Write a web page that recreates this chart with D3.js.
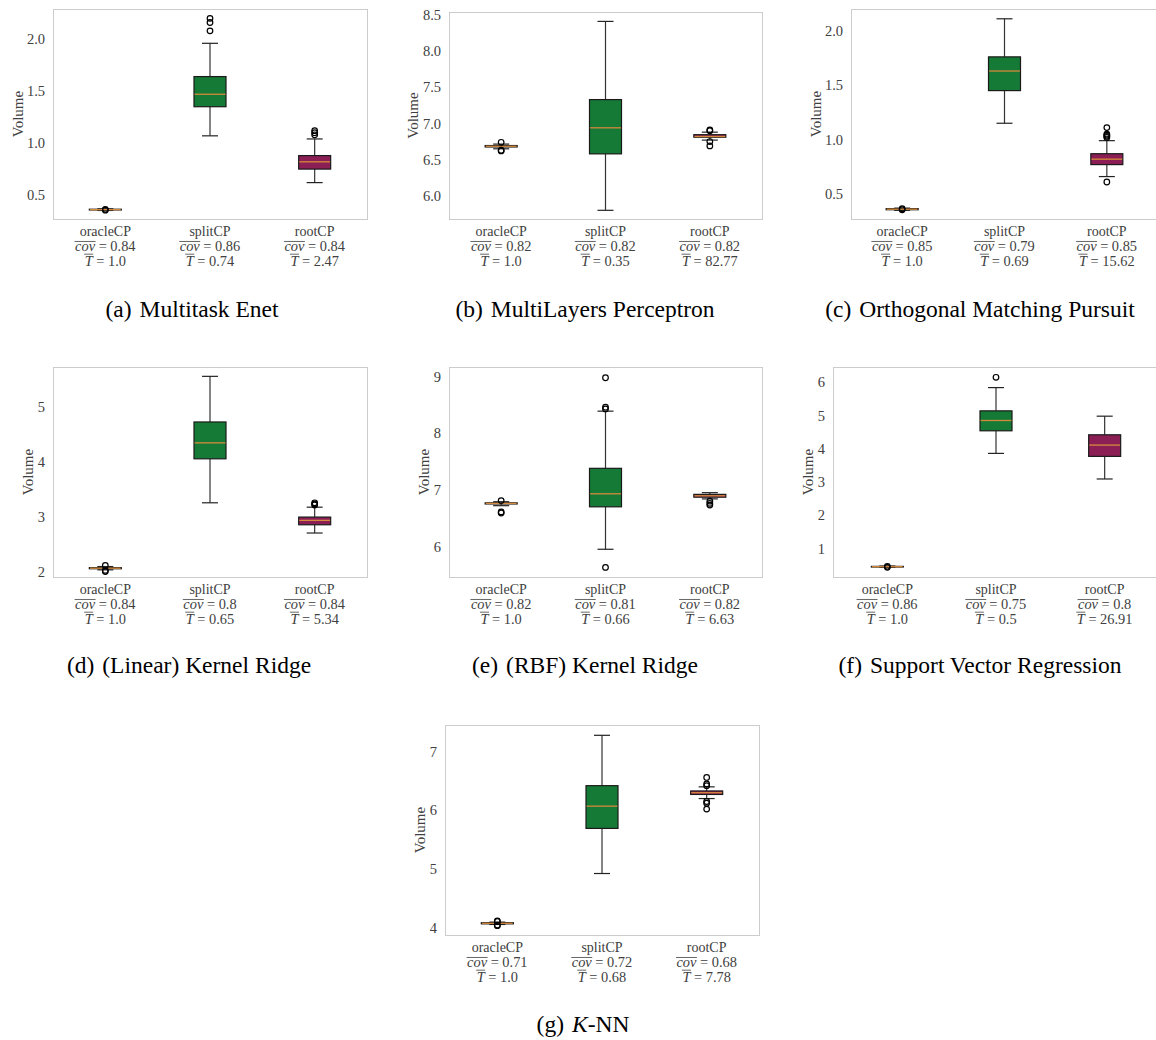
<!DOCTYPE html>
<html><head><meta charset="utf-8">
<script src="https://cdn.jsdelivr.net/npm/d3@7"></script>
<style>body{margin:0;background:#fff}</style>
</head><body>
<svg id="chart" width="1156" height="1040" xmlns="http://www.w3.org/2000/svg"></svg>
<script>
// ---------- data ----------
const categories = ["oracleCP", "splitCP", "rootCP"];
const panelLetters = ["a", "b", "c", "d", "e", "f", "g"];
const panelTitles = ["Multitask Enet", "MultiLayers Perceptron", "Orthogonal Matching Pursuit",
  "(Linear) Kernel Ridge", "(RBF) Kernel Ridge", "Support Vector Regression", "K-NN"];
const covLabels = [
  ["0.84", "0.86", "0.84"], ["0.82", "0.82", "0.82"], ["0.85", "0.79", "0.85"],
  ["0.84", "0.8", "0.84"], ["0.82", "0.81", "0.82"], ["0.86", "0.75", "0.8"],
  ["0.71", "0.72", "0.68"]];
const timeLabels = [
  ["1.0", "0.74", "2.47"], ["1.0", "0.35", "82.77"], ["1.0", "0.69", "15.62"],
  ["1.0", "0.65", "5.34"], ["1.0", "0.66", "6.63"], ["1.0", "0.5", "26.91"],
  ["1.0", "0.68", "7.78"]];

// box statistics per category: [lower whisker, q1, median, q3, upper whisker]
const statsA = [[0.352, 0.357, 0.360, 0.364, 0.368], [1.07, 1.35, 1.47, 1.64, 1.96], [0.62, 0.75, 0.82, 0.88, 1.04]];
const statsB = [[6.65, 6.675, 6.685, 6.695, 6.715], [5.80, 6.58, 6.94, 7.33, 8.41], [6.77, 6.81, 6.82, 6.845, 6.88]];
const statsC = [[0.35, 0.355, 0.36, 0.365, 0.37], [1.15, 1.45, 1.63, 1.76, 2.11], [0.66, 0.77, 0.82, 0.87, 0.99]];
const statsD = [[2.03, 2.05, 2.06, 2.07, 2.09], [3.25, 4.05, 4.34, 4.72, 5.55], [2.70, 2.85, 2.93, 2.99, 3.17]];
const statsE = [[6.72, 6.75, 6.76, 6.77, 6.79], [5.95, 6.70, 6.93, 7.38, 8.39], [6.84, 6.87, 6.895, 6.92, 6.95]];
const statsF = [[0.43, 0.44, 0.45, 0.46, 0.47], [3.86, 4.54, 4.85, 5.14, 5.84], [3.09, 3.77, 4.11, 4.42, 4.98]];
const statsG = [[4.05, 4.06, 4.07, 4.08, 4.09], [4.92, 5.69, 6.07, 6.42, 7.28], [6.20, 6.27, 6.30, 6.33, 6.40]];

const outliersA = [[0.355, 0.363], [2.08, 2.16, 2.20], [1.08, 1.10, 1.12]];
const outliersB = [[6.62, 6.63, 6.74], [], [6.69, 6.75, 6.90, 6.91]];
const outliersC = [[0.355, 0.365], [], [0.61, 1.02, 1.03, 1.04, 1.05, 1.11]];
const outliersD = [[2.00, 2.02, 2.11], [], [3.21, 3.23, 3.25]];
const outliersE = [[6.59, 6.61, 6.81], [5.63, 8.43, 8.46, 8.98], [6.73, 6.76, 6.80]];
const outliersF = [[0.43, 0.46], [6.15], []];
const outliersG = [[4.03, 4.04, 4.10, 4.11], [], [6.02, 6.12, 6.15, 6.42, 6.45, 6.56]];

const yDomains = [[0.27, 2.29], [5.68, 8.54], [0.27, 2.20], [1.90, 5.72], [5.46, 9.17], [0.14, 6.46], [3.87, 7.456]];
const yTicks = [[0.5, 1.0, 1.5, 2.0], [6.0, 6.5, 7.0, 7.5, 8.0, 8.5], [0.5, 1.0, 1.5, 2.0],
  [2, 3, 4, 5], [6, 7, 8, 9], [1, 2, 3, 4, 5, 6], [4, 5, 6, 7]];
const yFormats = [".1f", ".1f", ".1f", "d", "d", "d", "d"];

const allStats = [statsA, statsB, statsC, statsD, statsE, statsF, statsG];
const allOutliers = [outliersA, outliersB, outliersC, outliersD, outliersE, outliersF, outliersG];

// ---------- layout ----------
const layout = [
  {x: 53, y: 9, w: 314, h: 210, ylab: 17.5, capX: 192, capY: 317},
  {x: 449, y: 12, w: 313, h: 207, ylab: 412.5, capX: 585, capY: 317},
  {x: 851, y: 9, w: 307, h: 210, ylab: 815.3, capX: 980, capY: 317},
  {x: 53, y: 367, w: 314, h: 210, ylab: 27.5, capX: 189, capY: 673},
  {x: 449, y: 367, w: 313, h: 210, ylab: 423.3, capX: 585, capY: 673},
  {x: 833, y: 367, w: 326, h: 210, ylab: 807.5, capX: 980, capY: 673},
  {x: 445, y: 725, w: 314, h: 210, ylab: 420, capX: 583, capY: 1032}
];
const boxColors = ["#5a2a14", "#157a35", "#8b1f55"];
const medianColor = "#d4893c";
const serif = "'Liberation Serif','Times New Roman',serif";
const textGray = "#404040";
const boxW = 32, capW = 16;

const svg = d3.select("#chart");

layout.forEach((L, i) => {
  const g = svg.append("g");
  const x = d3.scalePoint().domain(categories).range([L.x, L.x + L.w]).padding(0.5);
  const y = d3.scaleLinear().domain(yDomains[i]).range([L.y + L.h, L.y]);

  // frame
  g.append("rect").attr("x", L.x + 0.5).attr("y", L.y + 0.5).attr("width", L.w).attr("height", L.h)
    .attr("fill", "none").attr("stroke", "#cccccc").attr("stroke-width", 1);

  // y axis
  const ax = g.append("g").attr("transform", `translate(${L.x},0)`)
    .call(d3.axisLeft(y).tickValues(yTicks[i]).tickFormat(d3.format(yFormats[i])).tickSize(0).tickPadding(8));
  ax.select(".domain").remove();
  ax.selectAll("text").attr("font-family", serif).attr("font-size", 14.5).attr("fill", textGray);

  // y label
  g.append("text").attr("transform", `translate(${L.ylab},${L.y + L.h / 2}) rotate(-90)`)
    .attr("dy", "0.35em").attr("text-anchor", "middle")
    .attr("font-family", serif).attr("font-size", 15).attr("fill", textGray).text("Volume");

  // boxes
  categories.forEach((c, j) => {
    const s = allStats[i][j];
    const cx = x(c);
    const bg = g.append("g");
    // whiskers
    bg.append("line").attr("x1", cx).attr("x2", cx).attr("y1", y(s[0])).attr("y2", y(s[1]))
      .attr("stroke", "#333").attr("stroke-width", 1.2);
    bg.append("line").attr("x1", cx).attr("x2", cx).attr("y1", y(s[3])).attr("y2", y(s[4]))
      .attr("stroke", "#333").attr("stroke-width", 1.2);
    // caps
    [s[0], s[4]].forEach(v => {
      bg.append("line").attr("x1", cx - capW / 2).attr("x2", cx + capW / 2).attr("y1", y(v)).attr("y2", y(v))
        .attr("stroke", "#222").attr("stroke-width", 1.2);
    });
    // box
    bg.append("rect").attr("x", cx - boxW / 2).attr("y", y(s[3]))
      .attr("width", boxW).attr("height", Math.max(0.5, y(s[1]) - y(s[3])))
      .attr("fill", boxColors[j]).attr("stroke", "#1a1a1a").attr("stroke-width", 1.2);
    // median
    bg.append("line").attr("x1", cx - boxW / 2 + 0.6).attr("x2", cx + boxW / 2 - 0.6)
      .attr("y1", y(s[2])).attr("y2", y(s[2])).attr("stroke", medianColor).attr("stroke-width", 1.3);
    // outliers
    bg.selectAll("circle.o").data(allOutliers[i][j]).enter().append("circle")
      .attr("cx", cx).attr("cy", d => y(d)).attr("r", 2.8)
      .attr("fill", "none").attr("stroke", "#000").attr("stroke-width", 1.2);

    // category labels
    const by = L.y + L.h;
    g.append("text").attr("x", cx).attr("y", by + 16.7).attr("text-anchor", "middle")
      .attr("font-family", serif).attr("font-size", 14).attr("fill", textGray).text(c);

    const fs = 14.4;
    const t1 = g.append("text").attr("x", cx).attr("y", by + 31.7).attr("text-anchor", "middle")
      .attr("font-family", serif).attr("font-size", fs).attr("fill", textGray)
      .style("white-space", "pre");
    t1.append("tspan").attr("font-style", "italic").text("cov");
    t1.append("tspan").text(" = " + covLabels[i][j]);
    const n1 = t1.node();
    const a1 = n1.getStartPositionOfChar(0).x, b1 = n1.getEndPositionOfChar(2).x;
    g.append("line").attr("x1", a1 - 0.5).attr("x2", b1 + 0.5)
      .attr("y1", by + 31.7 - fs * 0.64).attr("y2", by + 31.7 - fs * 0.64)
      .attr("stroke", textGray).attr("stroke-width", 0.8);

    const t2 = g.append("text").attr("x", cx).attr("y", by + 46.7).attr("text-anchor", "middle")
      .attr("font-family", serif).attr("font-size", fs).attr("fill", textGray)
      .style("white-space", "pre");
    t2.append("tspan").attr("font-style", "italic").text("T");
    t2.append("tspan").text(" = " + timeLabels[i][j]);
    const n2 = t2.node();
    const a2 = n2.getStartPositionOfChar(0).x, b2 = n2.getEndPositionOfChar(0).x;
    g.append("line").attr("x1", a2 - 0.5).attr("x2", b2 + 0.5)
      .attr("y1", by + 46.7 - fs * 0.8).attr("y2", by + 46.7 - fs * 0.8)
      .attr("stroke", textGray).attr("stroke-width", 0.8);
  });

  // caption
  const cap = g.append("text").attr("x", L.capX).attr("y", L.capY).attr("text-anchor", "middle")
    .attr("font-family", serif).attr("font-size", 23.5).attr("fill", "#000");
  cap.append("tspan").text(`(${panelLetters[i]})`);
  const title = panelTitles[i];
  if (title === "K-NN") {
    cap.append("tspan").attr("dx", 8).attr("font-style", "italic").text("K");
    cap.append("tspan").text("-NN");
  } else {
    cap.append("tspan").attr("dx", 8).text(title);
  }
});
</script>
</body></html>
